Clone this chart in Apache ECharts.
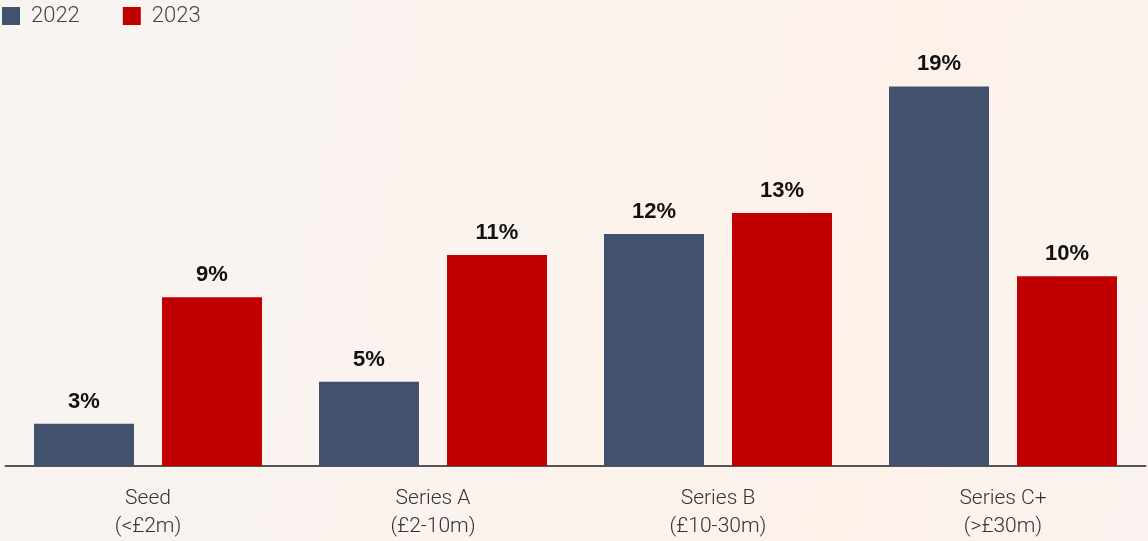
<!DOCTYPE html>
<html>
<head>
<meta charset="utf-8">
<script src="https://cdn.jsdelivr.net/npm/echarts@6/dist/echarts.min.js"></script>
<style>
  html, body { margin: 0; padding: 0; }
  #chart {
    width: 1148px; height: 541px;
    background: linear-gradient(100deg, #f8f4f1 0%, #fbf3ee 45%, #fdf2ea 75%, #faf3ef 100%);
  }
</style>
</head>
<body>
<div id="chart"></div>
<script>
const categories = ['Seed\n(<£2m)', 'Series A\n(£2-10m)', 'Series B\n(£10-30m)', 'Series C+\n(>£30m)'];
const seriesNames = ['2022', '2023'];
const values2022 = [3, 5, 12, 19];
const values2023 = [9, 11, 13, 10];
const colors = ['#42526e', '#c00000'];

const chart = echarts.init(document.getElementById('chart'), null, { renderer: 'canvas' });

const valueLabel = {
  show: true,
  position: 'top',
  distance: 11,
  formatter: '{c}%',
  color: '#111',
  fontFamily: 'Liberation Sans, Arial, sans-serif',
  fontWeight: 'bold',
  fontSize: 22
};

chart.setOption({
  animation: false,
  backgroundColor: 'transparent',
  color: colors,
  legend: {
    left: 2,
    top: 5,
    padding: 0,
    icon: 'rect',
    itemWidth: 18,
    itemHeight: 18,
    itemGap: 43,
    textStyle: {
      color: '#444',
      fontFamily: 'Roboto, sans-serif',
      fontWeight: 300,
      fontSize: 22,
      padding: [0, 0, 0, 6]
    },
    data: seriesNames
  },
  grid: { left: 5.5, right: 2.5, top: 40, bottom: 71.5, containLabel: false },
  xAxis: {
    type: 'category',
    data: categories,
    axisLine: { show: true, lineStyle: { color: '#555', width: 2 } },
    axisTick: { show: false },
    axisLabel: {
      margin: 19,
      color: '#333',
      fontFamily: 'Roboto, sans-serif',
      fontWeight: 300,
      fontSize: 21,
      lineHeight: 28
    }
  },
  yAxis: {
    type: 'value',
    min: 1.0,
    max: 21.2,
    show: false,
    splitLine: { show: false }
  },
  series: [
    {
      name: seriesNames[0],
      type: 'bar',
      data: values2022,
      barWidth: 100,
      barGap: '28%',
      label: valueLabel
    },
    {
      name: seriesNames[1],
      type: 'bar',
      data: values2023,
      barWidth: 100,
      barGap: '28%',
      label: valueLabel
    }
  ]
});
</script>
</body>
</html>
